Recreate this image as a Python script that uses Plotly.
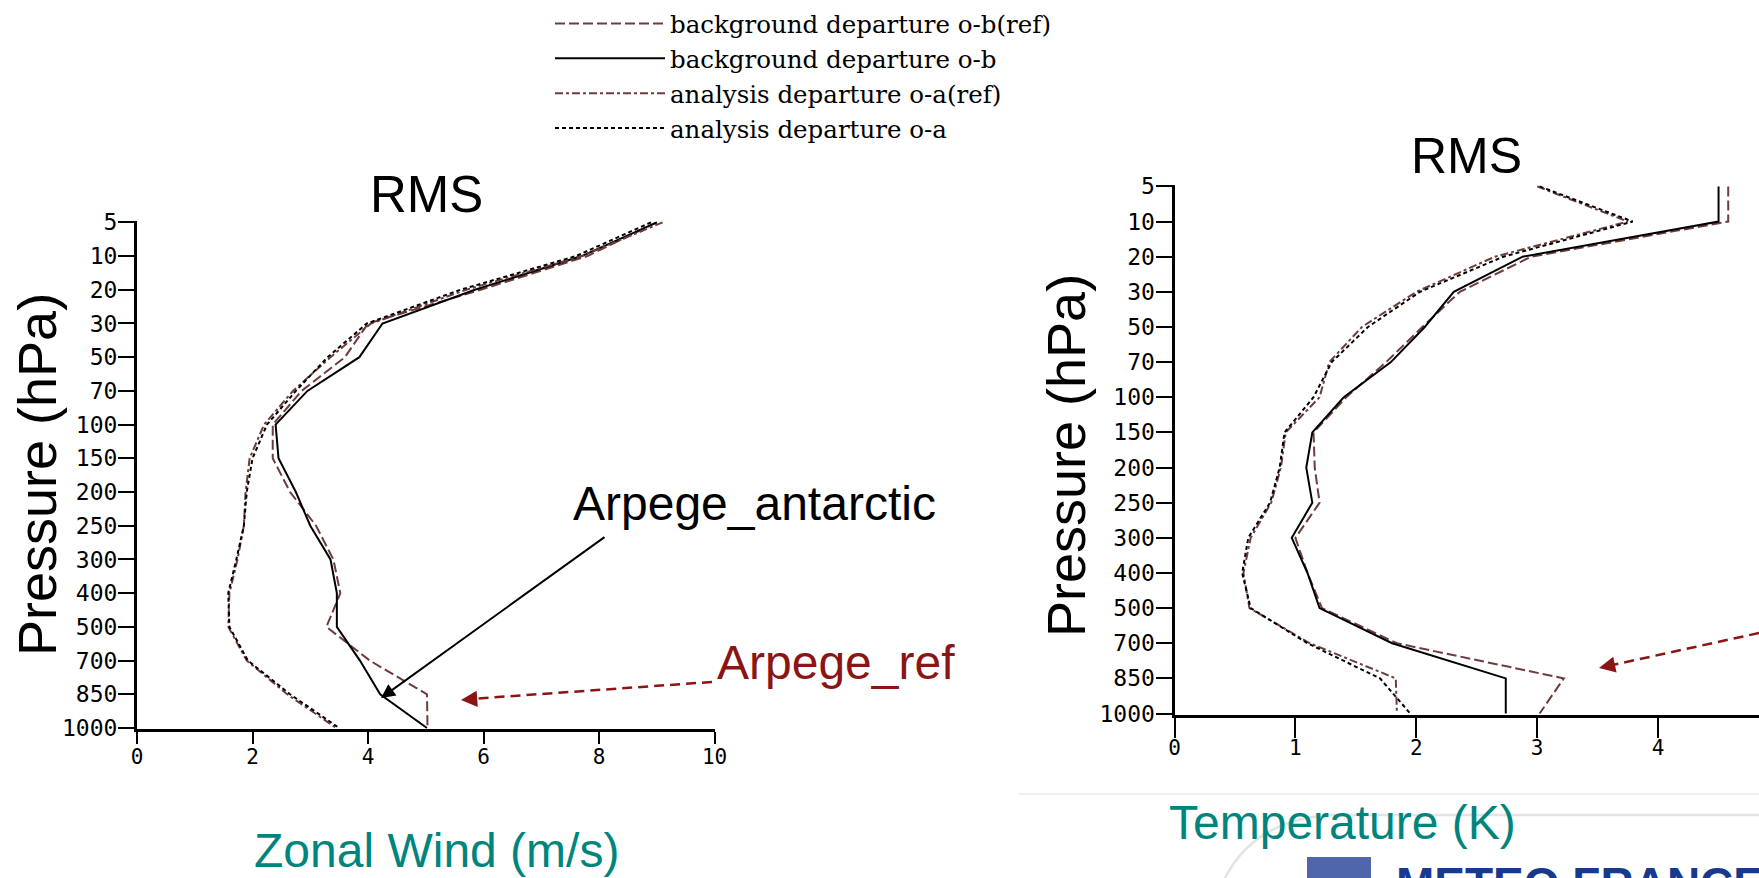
import plotly.graph_objects as go

W, H = 1759, 878

# ---------------- data ----------------
levels = ["5", "10", "20", "30", "50", "70", "100", "150", "200", "250",
          "300", "400", "500", "700", "850", "1000"]

series_names = ["background departure o-b(ref)", "background departure o-b",
                "analysis departure o-a(ref)", "analysis departure o-a"]

# Zonal wind RMS (m/s)
wind_ob_ref = [9.0, 7.8, 5.95, 4.0, 3.6, 2.85, 2.35, 2.35, 2.65, 3.1, 3.4, 3.52, 3.28, 4.03, 5.02, 5.03]
wind_ob = [9.0, 7.7, 5.85, 4.25, 3.85, 2.95, 2.4, 2.45, 2.75, 3.0, 3.35, 3.46, 3.46, 3.86, 4.21, 5.02]
wind_oa_ref = [9.1, 7.7, 5.7, 4.05, 3.35, 2.7, 2.2, 1.95, 1.88, 1.85, 1.74, 1.6, 1.58, 1.9, 2.6, 3.45]
wind_oa = [8.9, 7.6, 5.6, 3.98, 3.3, 2.75, 2.25, 2.0, 1.9, 1.85, 1.72, 1.58, 1.6, 1.92, 2.65, 3.5]

# Temperature RMS (K)
temp_ob_ref = [4.58, 4.58, 2.95, 2.36, 2.05, 1.75, 1.42, 1.15, 1.16, 1.2, 1.0, 1.1, 1.22, 1.84, 3.22, 3.02]
temp_ob = [4.5, 4.5, 2.88, 2.31, 2.07, 1.79, 1.40, 1.14, 1.09, 1.14, 0.97, 1.10, 1.20, 1.8, 2.74, 2.74]
temp_oa_ref = [3.0, 3.75, 2.65, 2.0, 1.55, 1.28, 1.2, 0.92, 0.88, 0.8, 0.63, 0.57, 0.62, 1.12, 1.83, 1.84]
temp_oa = [3.02, 3.79, 2.72, 2.03, 1.6, 1.3, 1.15, 0.91, 0.87, 0.79, 0.61, 0.56, 0.63, 1.1, 1.70, 1.95]

wind_ticks = [0, 2, 4, 6, 8, 10]
temp_ticks = [0, 1, 2, 3, 4, 5]

# ---------------- helpers ----------------
def px(x):
    return x / W


def py(y):
    return 1 - y / H


REF = "#6e3c3c"
DARKRED = "#8b1414"
TEAL = "#00857e"
styles = [dict(color=REF, width=2, dash="10px,4px"),
          dict(color="black", width=2, dash="solid"),
          dict(color=REF, width=2, dash="8px,3px,3px,3px"),
          dict(color="black", width=2, dash="4px,3px")]

fig = go.Figure()
wind_series = [wind_ob_ref, wind_ob, wind_oa_ref, wind_oa]
temp_series = [temp_ob_ref, temp_ob, temp_oa_ref, temp_oa]
for name, vals, st in zip(series_names, wind_series, styles):
    fig.add_trace(go.Scatter(x=vals, y=levels, mode="lines", name=name, line=st,
                             legendgroup=name, showlegend=True, xaxis="x", yaxis="y"))
for name, vals, st in zip(series_names, temp_series, styles):
    fig.add_trace(go.Scatter(x=vals, y=levels, mode="lines", name=name, line=st,
                             legendgroup=name, showlegend=False, xaxis="x2", yaxis="y2"))

tickfont = dict(family="DejaVu Sans Mono", size=23, color="black")
xtickfont = dict(family="DejaVu Sans Mono", size=21, color="black")
common_x = dict(showgrid=False, zeroline=False, showline=True, linewidth=3, linecolor="black",
                ticks="outside", tickwidth=2, tickcolor="black", tickfont=xtickfont,
                tickmode="array", automargin=False)
common_y = dict(showgrid=False, zeroline=False, showline=True, linewidth=3, linecolor="black",
                ticks="outside", ticklen=16, ticklabelstandoff=-4, tickwidth=2, tickcolor="black",
                tickfont=tickfont, type="category", categoryorder="array", categoryarray=levels,
                range=[len(levels) - 1 + 0.03, -0.04], automargin=False)

fig.update_layout(
    width=W, height=H, autosize=False,
    margin=dict(l=0, r=0, t=0, b=0, pad=0, autoexpand=False),
    paper_bgcolor="white", plot_bgcolor="white",
    xaxis=dict(domain=[px(137), px(714.6)], range=[0, 10], tickvals=wind_ticks, anchor="y",
               ticklen=12, ticklabelstandoff=-5, **common_x),
    yaxis=dict(domain=[py(729), py(221)], anchor="x", **common_y),
    xaxis2=dict(domain=[px(1174.5), 1.0], range=[0, (W - 1174.5) / 120.9], tickvals=temp_ticks,
                anchor="y2", ticklen=20, ticklabelstandoff=-8, **common_x),
    yaxis2=dict(domain=[py(714.6), py(185)], anchor="x2", **common_y),
    legend=dict(x=px(550), y=py(1), xanchor="left", yanchor="top",
                font=dict(family="DejaVu Serif", size=24.5, color="black"),
                itemwidth=110, bgcolor="rgba(0,0,0,0)", traceorder="normal"),
    showlegend=True,
)

sans = "Liberation Sans, Arial, sans-serif"


def label(text, x, y, size, color="black", xanchor="center", angle=0):
    return dict(text=text, x=px(x), y=py(y), xref="paper", yref="paper", showarrow=False,
                xanchor=xanchor, yanchor="middle", textangle=angle,
                font=dict(family=sans, size=size, color=color))


ann = [
    label("RMS", 426, 194, 51),
    label("RMS", 1466, 156, 50),
    label("Pressure (hPa)", 37, 475, 54, angle=-90),
    label("Pressure (hPa)", 1066, 456, 54, angle=-90),
    label("Zonal Wind (m/s)", 436, 850, 48, color=TEAL),
    label("Temperature (K)", 1342, 822, 48, color=TEAL),
    label("Arpege_antarctic", 571, 503, 48, xanchor="left"),
    label("Arpege_ref", 715, 662, 48, color=DARKRED, xanchor="left"),
]
# black solid arrow
ann.append(dict(text="", x=px(381), y=py(698), xref="paper", yref="paper", showarrow=True,
                ax=225, ay=-162, arrowhead=2, arrowsize=1.4, arrowwidth=2, arrowcolor="black"))
# dashed red arrow heads
ann.append(dict(text="", x=px(461), y=py(700), xref="paper", yref="paper", showarrow=True,
                ax=14, ay=-1, arrowhead=2, arrowsize=1.3, arrowwidth=2.5, arrowcolor=DARKRED))
ann.append(dict(text="", x=px(1599), y=py(668), xref="paper", yref="paper", showarrow=True,
                ax=14, ay=-3, arrowhead=2, arrowsize=1.3, arrowwidth=2.5, arrowcolor=DARKRED))
# logo text
ann.append(dict(text="<b>METEO FRANCE</b>", x=px(1394), y=py(856), xref="paper", yref="paper",
                xanchor="left", yanchor="top", showarrow=False,
                font=dict(family=sans, size=46, color="#173a8e")))
fig.update_layout(annotations=ann)

shapes = []
shapes.append(dict(type="line", xref="paper", yref="paper", x0=px(712), y0=py(682), x1=px(470), y1=py(699),
                   line=dict(color=DARKRED, width=2.5, dash="10px,6px")))
shapes.append(dict(type="line", xref="paper", yref="paper", x0=px(1759), y0=py(633), x1=px(1608), y1=py(666),
                   line=dict(color=DARKRED, width=2.5, dash="10px,6px")))
# faint frame / swoosh decorations
shapes.append(dict(type="line", xref="paper", yref="paper", x0=px(1019), y0=py(794), x1=1, y1=py(794),
                   line=dict(color="#efefef", width=2)))
shapes.append(dict(type="path", xref="paper", yref="paper", layer="below",
                   path="M %f,%f Q %f,%f %f,%f L %f,%f" % (px(1225), py(878), px(1255), py(820),
                                                           px(1330), py(815), 1.0, py(815)),
                   line=dict(color="#e4e4e4", width=2.5)))
shapes.append(dict(type="rect", xref="paper", yref="paper", x0=px(1307), x1=px(1371), y0=py(878), y1=py(857),
                   fillcolor="#4f66ad", line=dict(width=0)))
fig.update_layout(shapes=shapes)

fig.write_html("out.html", config={"displayModeBar": False},
               post_script="document.body.style.margin='0';document.body.style.overflow='hidden';")
